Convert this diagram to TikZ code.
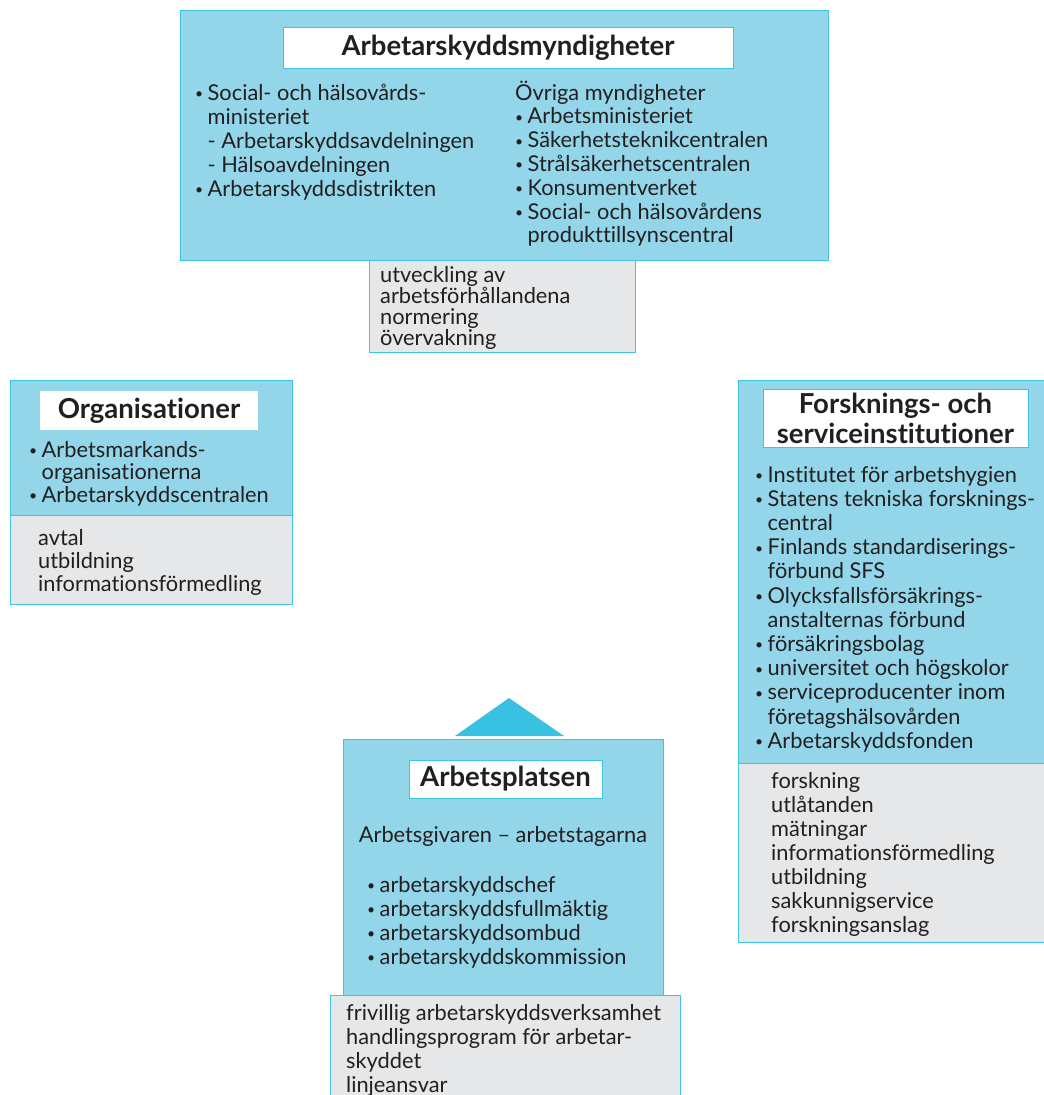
\documentclass[tikz,border=0pt]{standalone}
\usepackage{fontspec}
\setmainfont{Lato}[Ligatures=NoCommon]
\definecolor{bluefill}{HTML}{93D6E9}
\definecolor{cyanline}{HTML}{40C4E4}
\definecolor{trifill}{HTML}{38C1E0}
\definecolor{grayfill}{HTML}{E6E7E8}
\definecolor{ink}{HTML}{231F20}
\newcommand{\bodyfnt}{\fontsize{21.8}{24}\selectfont}
\newcommand{\ttlfnt}{\fontsize{27.5}{30}\selectfont\bfseries}
\newcommand{\bl}{\makebox[12.5pt][l]{\raisebox{1.6pt}{\fontsize{14}{14}\selectfont•}}}
\newcommand{\ind}{\hspace*{12.5pt}}
\tikzset{
  bluebox/.style={draw=cyanline, fill=bluefill, line width=0.9pt, anchor=north west, inner sep=0pt},
  graybox/.style={draw=cyanline, fill=grayfill, line width=0.9pt, anchor=north west, inner sep=0pt},
  titlebox/.style={draw=cyanline, fill=white, line width=0.9pt, inner sep=0pt, font=\ttlfnt, text=ink, align=center},
  txt/.style={anchor=base west, inner sep=0pt, font=\bodyfnt, text=ink},
  txtc/.style={anchor=base, inner sep=0pt, font=\bodyfnt, text=ink}
}
\begin{document}
\begin{tikzpicture}[x=1pt,y=-1pt]
\useasboundingbox (0,0) rectangle (1044,1095);
% ---------- top: Arbetarskyddsmyndigheter ----------
\node[bluebox, minimum width=648, minimum height=250] (topbox) at (180,10) {};
\node[graybox, minimum width=266, minimum height=92] (topgray) at (369,260) {};
\node[titlebox, minimum width=450, minimum height=41] (toptitle) at (508,47.5) {Arbetarskyddsmyndigheter};
\foreach \t [count=\i] in {{\bl Social- och hälsovårds-},{\ind ministeriet},{\ind - Arbetarskyddsavdelningen},{\ind - Hälsoavdelningen},{\bl Arbetarskyddsdistrikten}}
  \node[txt] (topL\i) at (195,{100+24*(\i-1)}) {\t};
\foreach \t [count=\i] in {{Övriga myndigheter},{\bl Arbetsministeriet},{\bl Säkerhetsteknikcentralen},{\bl Strålsäkerhetscentralen},{\bl Konsumentverket},{\bl Social- och hälsovårdens},{\ind produkttillsynscentral}}
  \node[txt] (topR\i) at (515,{100+23.8*(\i-1)}) {\t};
\foreach \t [count=\i] in {{utveckling av},{arbetsförhållandena},{normering},{övervakning}}
  \node[txt] (topG\i) at (380,{282+21*(\i-1)}) {\t};
% ---------- left: Organisationer ----------
\node[bluebox, minimum width=282, minimum height=135] (leftbox) at (10,380) {};
\node[graybox, minimum width=282, minimum height=89] (leftgray) at (10,515) {};
\node[titlebox, draw=none, minimum width=218, minimum height=39] (lefttitle) at (149,410.5) {Organisationer};
\foreach \t [count=\i] in {{\bl Arbetsmarkands-},{\ind organisationerna},{\bl Arbetarskyddscentralen}}
  \node[txt] (leftL\i) at (29,{457+22.5*(\i-1)}) {\t};
\foreach \t [count=\i] in {{avtal},{utbildning},{informationsförmedling}}
  \node[txt] (leftG\i) at (38,{545+23*(\i-1)}) {\t};
% ---------- right: Forsknings- och serviceinstitutioner ----------
\node[bluebox, minimum width=310, minimum height=383] (rightbox) at (738,380) {};
\node[graybox, minimum width=310, minimum height=179] (rightgray) at (738,763) {};
\node[titlebox, minimum width=265, minimum height=58] (righttitle) at (895.5,418) {Forsknings- och\\serviceinstitutioner};
\foreach \t [count=\i] in {{\bl Institutet för arbetshygien},{\bl Statens tekniska forsknings-},{\ind central},{\bl Finlands standardiserings-},{\ind förbund SFS},{\bl Olycksfallsförsäkrings-},{\ind anstalternas förbund},{\bl försäkringsbolag},{\bl universitet och högskolor},{\bl serviceproducenter inom},{\ind företagshälsovården},{\bl Arbetarskyddsfonden}}
  \node[txt] (rightL\i) at (755,{482+24.2*(\i-1)}) {\t};
\foreach \t [count=\i] in {{forskning},{utlåtanden},{mätningar},{informationsförmedling},{utbildning},{sakkunnigservice},{forskningsanslag}}
  \node[txt] (rightG\i) at (771,{788+24*(\i-1)}) {\t};
% ---------- bottom: Arbetsplatsen ----------
\fill[trifill] (455,736) -- (509,698) -- (564,736) -- cycle;
\node[bluebox, minimum width=320, minimum height=256] (botbox) at (343,739) {};
\node[graybox, minimum width=350, minimum height=110] (botgray) at (330,995) {};
\node[titlebox, minimum width=193, minimum height=38] (bottitle) at (505.5,779) {Arbetsplatsen};
\node[txtc] (botsub) at (503,842) {Arbetsgivaren – arbetstagarna};
\foreach \t [count=\i] in {{\bl arbetarskyddschef},{\bl arbetarskyddsfullmäktig},{\bl arbetarskyddsombud},{\bl arbetarskyddskommission}}
  \node[txt] (botL\i) at (367,{892+24*(\i-1)}) {\t};
\foreach \t [count=\i] in {{frivillig arbetarskyddsverksamhet},{handlingsprogram för arbetar-},{skyddet},{linjeansvar}}
  \node[txt] (botG\i) at (346,{1020+24*(\i-1)}) {\t};
\end{tikzpicture}
\end{document}
